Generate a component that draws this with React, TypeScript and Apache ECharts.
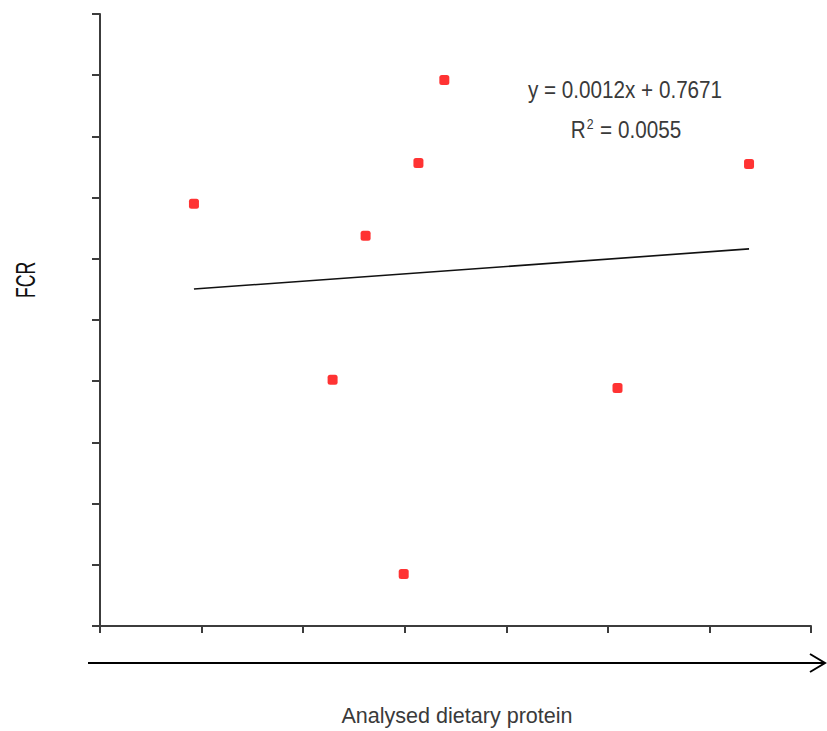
import React, { useEffect, useRef } from "react";
import * as echarts from "echarts";

// Analysed dietary protein (%) vs feed conversion ratio
const proteinValues = [35.85, 38.58, 39.23, 39.98, 40.27, 40.78, 44.19, 46.78];
const fcrValues = [0.838, 0.7805, 0.8275, 0.717, 0.8513, 0.8784, 0.7778, 0.851];

// Linear trendline y = slope * x + intercept
const trendSlope = 0.0012;
const trendIntercept = 0.7671;
const trendLabel = "y = 0.0012x + 0.7671";
const r2Label = "0.0055";

const xAxisTitle = "Analysed dietary protein";
const yAxisTitle = "FCR";

export default function App() {
  const ref = useRef<HTMLDivElement>(null);

  useEffect(() => {
    if (!ref.current) return;
    const chart = echarts.init(ref.current, null, { renderer: "svg" });

    const xMin = Math.min(...proteinValues);
    const xMax = Math.max(...proteinValues);
    const trend = [xMin, xMax].map((x) => [x, trendSlope * x + trendIntercept]);

    const axisColor = "#3c3c3c";
    const sans = "'Liberation Sans', Arial, sans-serif";
    const textColor = "#3a3a3a";

    chart.setOption({
      animation: false,
      backgroundColor: "#ffffff",
      grid: { left: 100, top: 14, right: 16, bottom: 105 },
      xAxis: {
        type: "value",
        min: 34,
        max: 48,
        interval: 2,
        axisLine: { show: true, lineStyle: { color: axisColor, width: 2 } },
        axisTick: { show: true, inside: false, length: 7, lineStyle: { color: axisColor, width: 2 } },
        axisLabel: { show: false },
        splitLine: { show: false },
      },
      yAxis: {
        type: "value",
        min: 0.7,
        max: 0.9,
        interval: 0.02,
        axisLine: { show: true, onZero: false, lineStyle: { color: axisColor, width: 2 } },
        axisTick: { show: true, inside: false, length: 8, lineStyle: { color: axisColor, width: 2 } },
        axisLabel: { show: false },
        splitLine: { show: false },
      },
      series: [
        {
          type: "scatter",
          data: proteinValues.map((x, i) => [x, fcrValues[i]]),
          symbol: "roundRect",
          symbolSize: 10,
          itemStyle: { color: "#ff0000" },
          z: 3,
        },
        {
          type: "line",
          data: trend,
          showSymbol: false,
          symbol: "none",
          lineStyle: { color: "#111111", width: 1.6 },
          z: 2,
        },
      ],
      graphic: [
        {
          type: "text",
          x: 625,
          y: 90,
          scaleX: 0.88,
          style: {
            text: trendLabel,
            font: `23.5px ${sans}`,
            fill: textColor,
            align: "center",
            verticalAlign: "middle",
          },
        },
        {
          type: "text",
          x: 626,
          y: 130,
          scaleX: 0.88,
          style: {
            text: `{b|R}{s|2}{b| = ${r2Label}}`,
            align: "center",
            verticalAlign: "middle",
            rich: {
              b: { font: `23.5px ${sans}`, fill: textColor, color: textColor },
              s: { font: `14px ${sans}`, fill: textColor, color: textColor, verticalAlign: "top", padding: [0, 1, 12, 1] },
            },
          },
        },
        {
          type: "text",
          x: 25,
          y: 280,
          rotation: Math.PI / 2,
          scaleX: 0.63,
          style: {
            text: yAxisTitle,
            font: `28px ${sans}`,
            fill: "#111111",
            align: "center",
            verticalAlign: "middle",
          },
        },
        {
          type: "text",
          x: 457,
          y: 715,
          scaleX: 0.98,
          style: {
            text: xAxisTitle,
            font: `22px ${sans}`,
            fill: textColor,
            align: "center",
            verticalAlign: "middle",
          },
        },
        {
          type: "line",
          shape: { x1: 88, y1: 663, x2: 825, y2: 663 },
          style: { stroke: "#000000", lineWidth: 2 },
        },
        {
          type: "polyline",
          shape: { points: [[810, 654], [825, 663], [810, 672]] },
          style: { stroke: "#000000", lineWidth: 2, fill: "none" },
        },
      ],
    });

    return () => chart.dispose();
  }, []);

  return (
    <div
      ref={ref}
      style={{ position: "fixed", left: 0, top: 0, width: 827, height: 731 }}
    />
  );
}
